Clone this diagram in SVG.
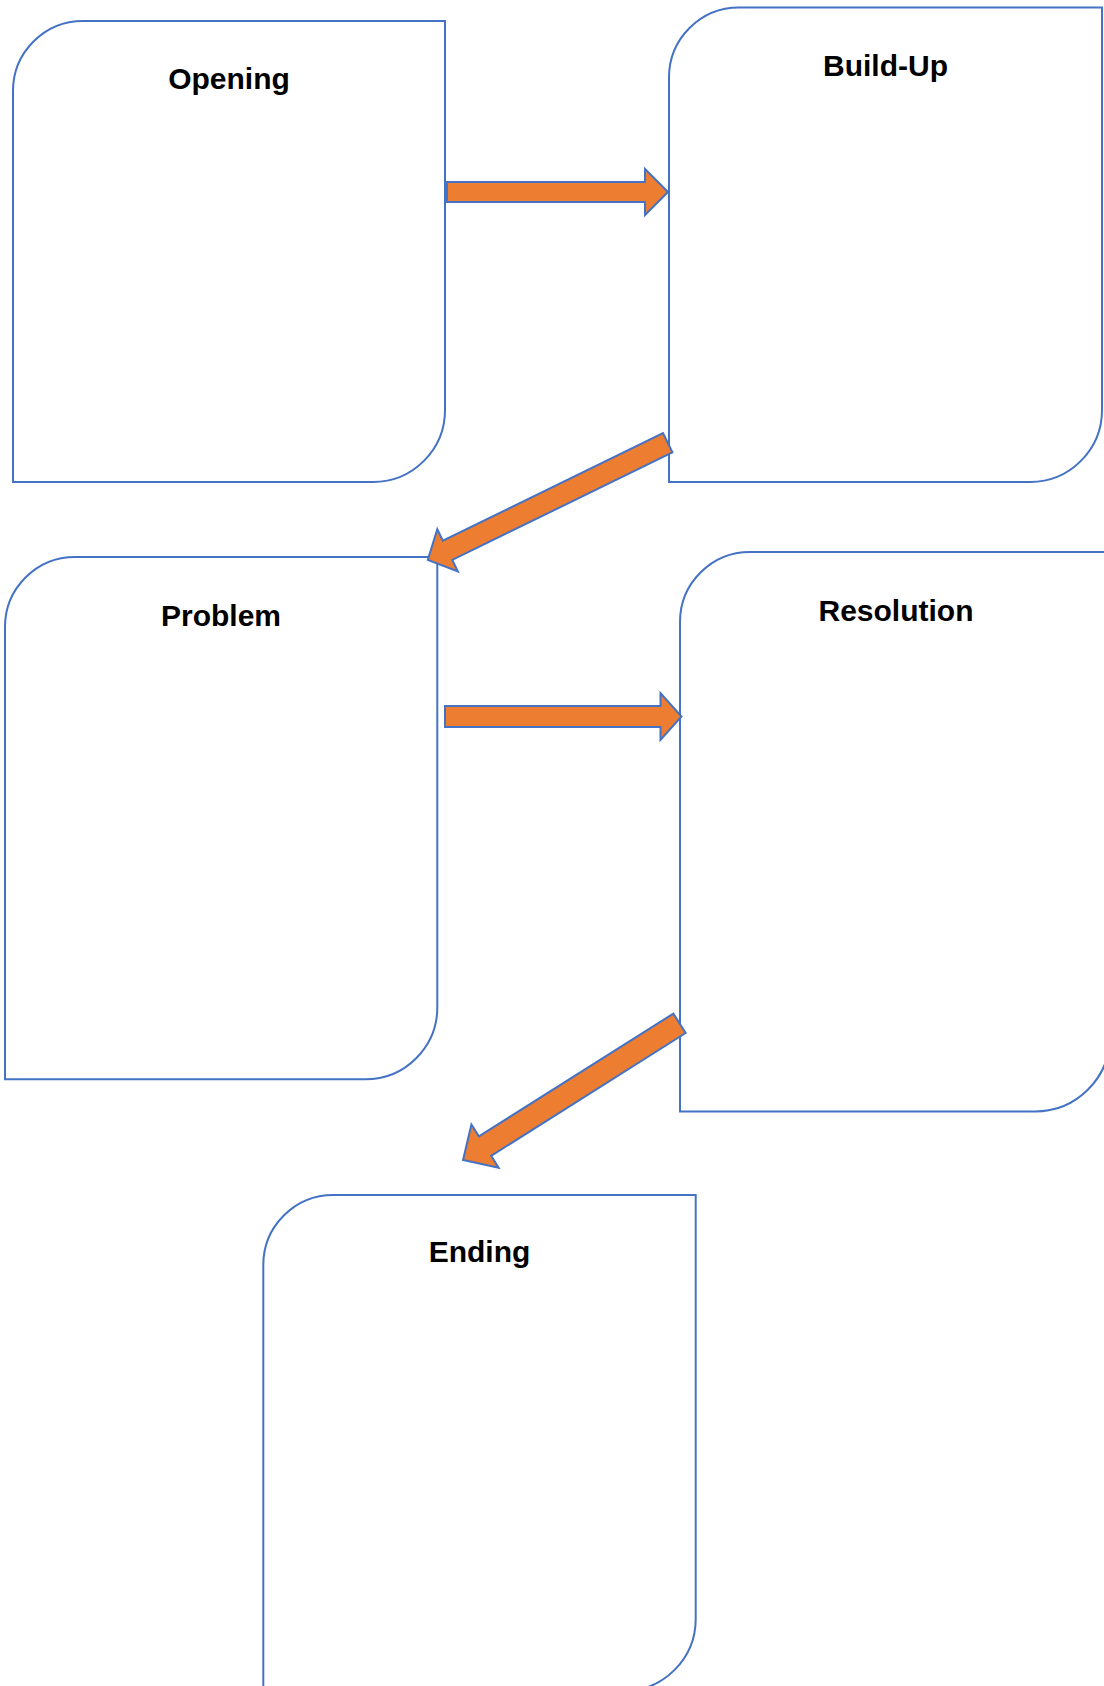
<svg xmlns="http://www.w3.org/2000/svg" width="1104" height="1686" viewBox="0 0 1104 1686">
  <style>
    .box { fill: #FFFFFF; stroke: #4472C4; stroke-width: 2; }
    .label { font-family: "Liberation Sans", Arial, sans-serif; font-weight: bold; font-size: 30px; fill: #000000; text-anchor: middle; }
    .arrow { fill: #ED7D31; stroke: #4472C4; stroke-width: 2; stroke-linejoin: miter; }
  </style>
  <rect x="0" y="0" width="1104" height="1686" fill="#FFFFFF"/>
  <g id="node-opening">
    <path class="box" d="M13,91 A70,70 0 0 1 83,21 H445 V410 A72,72 0 0 1 373,482 H13 Z"/>
    <text class="label" x="229" y="89">Opening</text>
  </g>
  <g id="node-buildup">
    <path class="box" d="M669,77.5 A70,70 0 0 1 739,7.5 H1102 V410 A72,72 0 0 1 1030,482 H669 Z"/>
    <text class="label" x="885.5" y="76">Build-Up</text>
  </g>
  <g id="node-problem">
    <path class="box" d="M5,627 A70,70 0 0 1 75,557 H437.3 V1007.3 A72,72 0 0 1 365.3,1079.3 H5 Z"/>
    <text class="label" x="221" y="625.5">Problem</text>
  </g>
  <g id="node-resolution">
    <path class="box" d="M680,622 A70,70 0 0 1 750,552 H1110 V1036.5 A75,75 0 0 1 1035,1111.5 H680 Z"/>
    <text class="label" x="896" y="620.5">Resolution</text>
  </g>
  <g id="node-ending">
    <path class="box" d="M263.3,1265 A70,70 0 0 1 333.3,1195 H695.7 V1619 A72,72 0 0 1 623.7,1691 H263.3 Z"/>
    <text class="label" x="479.5" y="1262">Ending</text>
  </g>
  <g id="connectors">
    <polygon class="arrow" points="447,182 645,182 645,169 668,192 645,215 645,202 447,202"/>
    <polygon class="arrow" transform="translate(667.7 442.8) rotate(153.97)" points="0,-10.7 245,-10.7 245,-23.4 267,0 245,23.4 245,10.7 0,10.7"/>
    <polygon class="arrow" points="445,706 660.5,706 660.5,693 681.5,716.5 660.5,740 660.5,727 445,727"/>
    <polygon class="arrow" transform="translate(679.5 1023.3) rotate(147.73)" points="0,-11.5 230,-11.5 230,-25.5 256,0 230,25.5 230,11.5 0,11.5"/>
  </g>
</svg>
